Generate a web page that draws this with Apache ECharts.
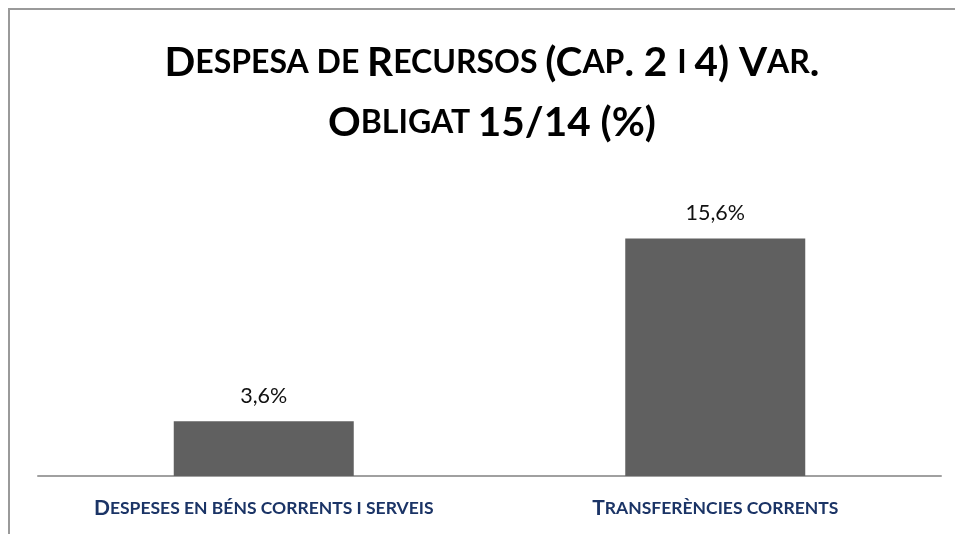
<!DOCTYPE html>
<html><head><meta charset="utf-8">
<script src="https://cdn.jsdelivr.net/npm/echarts@6/dist/echarts.min.js"></script>
<style>html,body{margin:0;padding:0;background:#fff}#c{width:955px;height:534px}</style>
</head><body><div id="c"></div>
<script>
const titleLines = ["Despesa de Recursos (Cap. 2 i 4) Var.", "Obligat 15/14 (%)"];
const categories = ["Despeses en béns corrents i serveis", "Transferències corrents"];
const values = [3.6, 15.6];

// Render text as small caps using rich text runs: uppercase/digits/punct => big, lowercase => small
function smallCaps(str) {
  let out = "", cur = null, buf = "";
  for (const ch of str) {
    let st;
    if (ch === " ") st = cur || "b";
    else if (ch !== ch.toUpperCase()) st = "s";
    else st = "b";
    if (st !== cur && cur !== null) { out += "{" + cur + "|" + buf + "}"; buf = ""; }
    cur = st; buf += ch.toUpperCase();
  }
  if (buf) out += "{" + cur + "|" + buf + "}";
  return out;
}

const chart = echarts.init(document.getElementById('c'));
chart.setOption({
  animation: false,
  backgroundColor: '#ffffff',
  title: {
    text: titleLines.map(smallCaps).join("\n"),
    left: 487, textAlign: 'center', top: 28,
    textStyle: {
      rich: {
        b: { fontFamily: 'Lato', fontWeight: 'bold', fontSize: 40.5, color: '#000', lineHeight: 60 },
        s: { fontFamily: 'Lato', fontWeight: 'bold', fontSize: 32, color: '#000', lineHeight: 60 }
      }
    }
  },
  graphic: [{
    type: 'rect', silent: true,
    shape: { x: 9, y: 9, width: 980, height: 560 },
    style: { fill: null, stroke: '#9a9a9a', lineWidth: 2 }
  }],
  grid: { left: 38, right: 14, top: 202, bottom: 58 },
  xAxis: {
    type: 'category', data: categories,
    axisLine: { lineStyle: { color: '#a0a0a0', width: 2 } },
    axisTick: { show: false },
    axisLabel: {
      margin: 22, interval: 0,
      formatter: v => smallCaps(v),
      rich: {
        b: { fontFamily: 'Lato', fontWeight: 'bold', fontSize: 21, color: '#1b3466' },
        s: { fontFamily: 'Lato', fontWeight: 'bold', fontSize: 17.5, color: '#1b3466' }
      }
    }
  },
  yAxis: { type: 'value', min: 0, max: 18, show: false, splitLine: { show: false } },
  series: [{
    type: 'bar', data: values, barWidth: 180,
    itemStyle: { color: '#606060' },
    label: {
      show: true, position: 'top', distance: 14,
      formatter: p => p.value.toFixed(1).replace('.', ',') + '%',
      fontFamily: 'Lato', fontSize: 21.5, color: '#111'
    }
  }]
});
</script></body></html>
